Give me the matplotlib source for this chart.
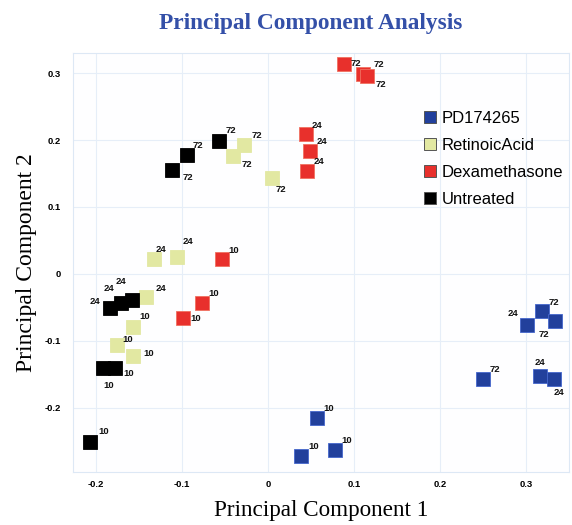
import matplotlib
matplotlib.use("Agg")
import matplotlib.pyplot as plt
from matplotlib.lines import Line2D

# ---------------- data ----------------
groups = ["PD174265", "RetinoicAcid", "Dexamethasone", "Untreated"]

pd_x = [0.318, 0.301, 0.333, 0.250, 0.316, 0.332, 0.057, 0.039, 0.078]
pd_y = [-0.056, -0.076, -0.071, -0.157, -0.152, -0.157, -0.215, -0.272, -0.263]
pd_lab = ["72", "24", "72", "72", "24", "24", "10", "10", "10"]

ra_x = [-0.028, -0.040, 0.005, -0.132, -0.106, -0.142, -0.157, -0.175, -0.157]
ra_y = [0.193, 0.176, 0.144, 0.022, 0.025, -0.035, -0.079, -0.106, -0.122]
ra_lab = ["72", "72", "72", "24", "24", "24", "10", "10", "10"]

dx_x = [0.089, 0.110, 0.115, 0.044, 0.049, 0.046, -0.053, -0.077, -0.099]
dx_y = [0.314, 0.299, 0.296, 0.209, 0.184, 0.153, 0.022, -0.044, -0.066]
dx_lab = ["72", "72", "72", "24", "24", "24", "10", "10", "10"]

un_x = [-0.111, -0.094, -0.057, -0.183, -0.171, -0.158, -0.191, -0.177, -0.206]
un_y = [0.155, 0.178, 0.199, -0.051, -0.044, -0.039, -0.141, -0.140, -0.251]
un_lab = ["72", "72", "72", "24", "24", "24", "10", "10", "10"]

x_ticks = [-0.2, -0.1, 0, 0.1, 0.2, 0.3]
x_ticklabels = ["-0.2", "-0.1", "0", "0.1", "0.2", "0.3"]
y_ticks = [-0.2, -0.1, 0, 0.1, 0.2, 0.3]
y_ticklabels = ["-0.2", "-0.1", "0", "0.1", "0.2", "0.3"]

# label offsets in pixels (dx, dy; dy positive = down)
pd_off = [(12, -9), (-14, -11), (-11, 13), (12, -9), (0, -13), (5, 14), (12, -9), (12, -9), (12, -9)]
ra_off = [(13, -9), (14, 8), (9, 12), (7, -10), (11, -16), (15, -9), (12, -10), (11, -5), (16, -2)]
dx_off = [(12, 0), (16, -9), (14, 9), (11, -9), (12, -9), (12, -10), (12, -9), (12, -10), (13, 0)]
un_off = [(16, 7), (11, -9), (12, -10), (-15, -7), (-12, -15), (-11, -18), (5, 17), (13, 6), (13, -10)]

# ---------------- style ----------------
colors = ["#22409c", "#e2e8a2", "#e8302c", "#000000"]
edges = ["#4466cc", "#e2e8a2", "#f07060", "#000000"]

fig = plt.figure(figsize=(5.72, 5.25), dpi=100)
ax = fig.add_axes([0.128, 0.101, 0.867, 0.798])
ax.set_facecolor("#fefeff")

series = [
    (pd_x, pd_y, pd_lab, pd_off),
    (ra_x, ra_y, ra_lab, ra_off),
    (dx_x, dx_y, dx_lab, dx_off),
    (un_x, un_y, un_lab, un_off),
]

for i, (xs, ys, labs, offs) in enumerate(series):
    ax.plot(xs, ys, linestyle="none", marker="s", markersize=10,
            markerfacecolor=colors[i], markeredgecolor=edges[i],
            markeredgewidth=0.6, zorder=3)
    for x, y, t, (ox, oy) in zip(xs, ys, labs, offs):
        ax.annotate(t, (x, y), xytext=(ox, -oy), textcoords="offset pixels",
                    ha="center", va="center", fontsize=6.8, fontweight="bold",
                    family="Liberation Sans", color="#111111", zorder=4)

ax.set_xlim(-0.226, 0.35)
ax.set_ylim(-0.296, 0.33)
ax.set_xticks(x_ticks)
ax.set_xticklabels(x_ticklabels)
ax.set_yticks(y_ticks)
ax.set_yticklabels(y_ticklabels)
for lab in ax.get_xticklabels() + ax.get_yticklabels():
    lab.set_family("Liberation Sans")
    lab.set_fontweight("bold")
    lab.set_fontsize(6.8)
ax.tick_params(axis="x", length=0, pad=6)
ax.tick_params(axis="y", length=0, pad=9)
ax.grid(True, color="#e6eef8", linewidth=0.8)
ax.set_axisbelow(True)
for s in ax.spines.values():
    s.set_color("#dde8f5")
    s.set_linewidth(0.8)

ax.set_xlabel("Principal Component 1", family="Liberation Serif", fontsize=16.7, labelpad=8)
ax.set_ylabel("Principal Component 2", family="Liberation Serif", fontsize=17, labelpad=5)
fig.text(0.544, 0.956, "Principal Component Analysis", family="Liberation Serif",
         fontweight="bold", fontsize=16.8, color="#3450a8", ha="center", va="center")

handles = [Line2D([], [], linestyle="none", marker="s", markersize=9,
                  markerfacecolor=colors[i], markeredgecolor="#555555",
                  markeredgewidth=0.7) for i in range(4)]
leg = ax.legend(handles, groups, loc="upper left", bbox_to_anchor=(0.685, 0.877),
                frameon=False, prop={"family": "Liberation Sans", "size": 12},
                handletextpad=0.15, labelspacing=0.72, handlelength=1.2,
                borderaxespad=0)

fig.savefig("out.png", dpi=100)
